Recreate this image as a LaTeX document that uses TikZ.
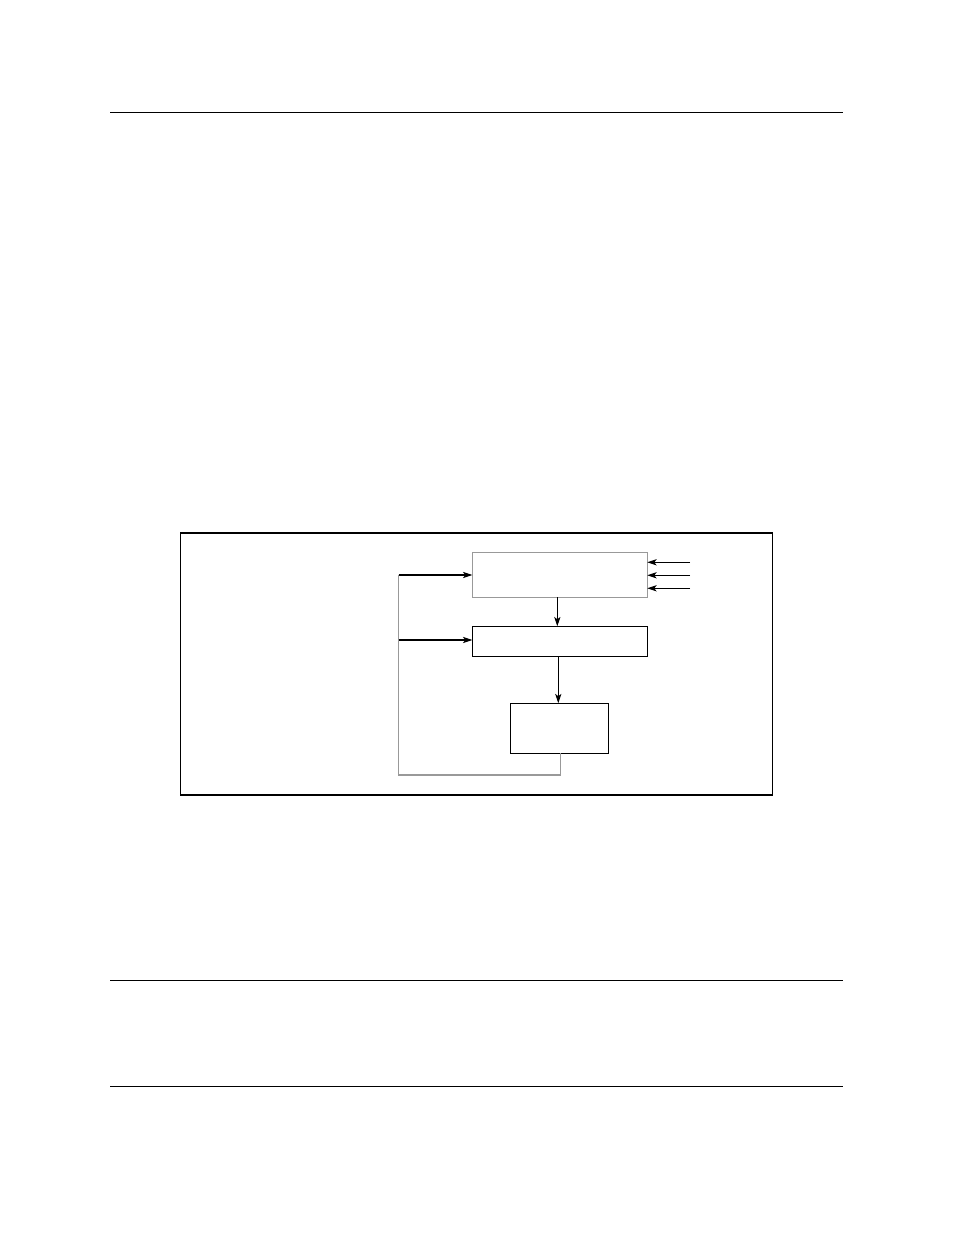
\documentclass[tikz,border=0pt]{standalone}
\usetikzlibrary{arrows.meta}
\begin{document}
\begin{tikzpicture}[x=0.6415pt,y=-0.6415pt,
  ln/.style={line width=0.7pt,black},
  gln/.style={line width=0.7pt,black!40},
  arr/.style={ln,-{Stealth[length=6pt,width=4pt,inset=1.5pt]}},
  box/.style={draw,line width=0.7pt,inner sep=0pt,outer sep=0pt,anchor=north west}]
\useasboundingbox (0,0) rectangle (954,1235);
% page rules
\draw[ln] (110,112.5) -- (843,112.5);
\draw[ln] (110,980.5) -- (843,980.5);
\draw[ln] (110,1086.5) -- (843,1086.5);
% frame
\node[box,minimum width=592*0.6415pt,minimum height=262*0.6415pt] (frame) at (180.7,533) {};
% boxes
\node[box,draw=black!40,minimum width=175*0.6415pt,minimum height=45*0.6415pt] (top) at (472.3,552.3) {};
\node[box,minimum width=175*0.6415pt,minimum height=30*0.6415pt] (mid) at (472.3,626.3) {};
\node[box,minimum width=98*0.6415pt,minimum height=50*0.6415pt] (bot) at (510.3,703.2) {};
% coordinates
\coordinate (fbB) at (560.3,775);
\coordinate (fbL) at (398.5,775);
\coordinate (fbT) at (398.5,575);
\coordinate (fbM) at (398.5,640);
\coordinate (in1) at (690,562.3);
\coordinate (in2) at (690,575.3);
\coordinate (in3) at (690,588.3);
% connectors
\draw[arr] (557.3,597.3) -- (557.3,626.3);
\draw[arr] (558.3,656.3) -- (558.3,703.2);
\draw[gln] (bot.south -| fbB) -- (fbB) -- (fbL) -- (fbT);
\draw[arr] (fbT) -- (fbT -| top.west);
\draw[arr] (fbM) -- (fbM -| mid.west);
\draw[arr] (in1) -- (in1 -| top.east);
\draw[arr] (in2) -- (in2 -| top.east);
\draw[arr] (in3) -- (in3 -| top.east);
\end{tikzpicture}
\end{document}
